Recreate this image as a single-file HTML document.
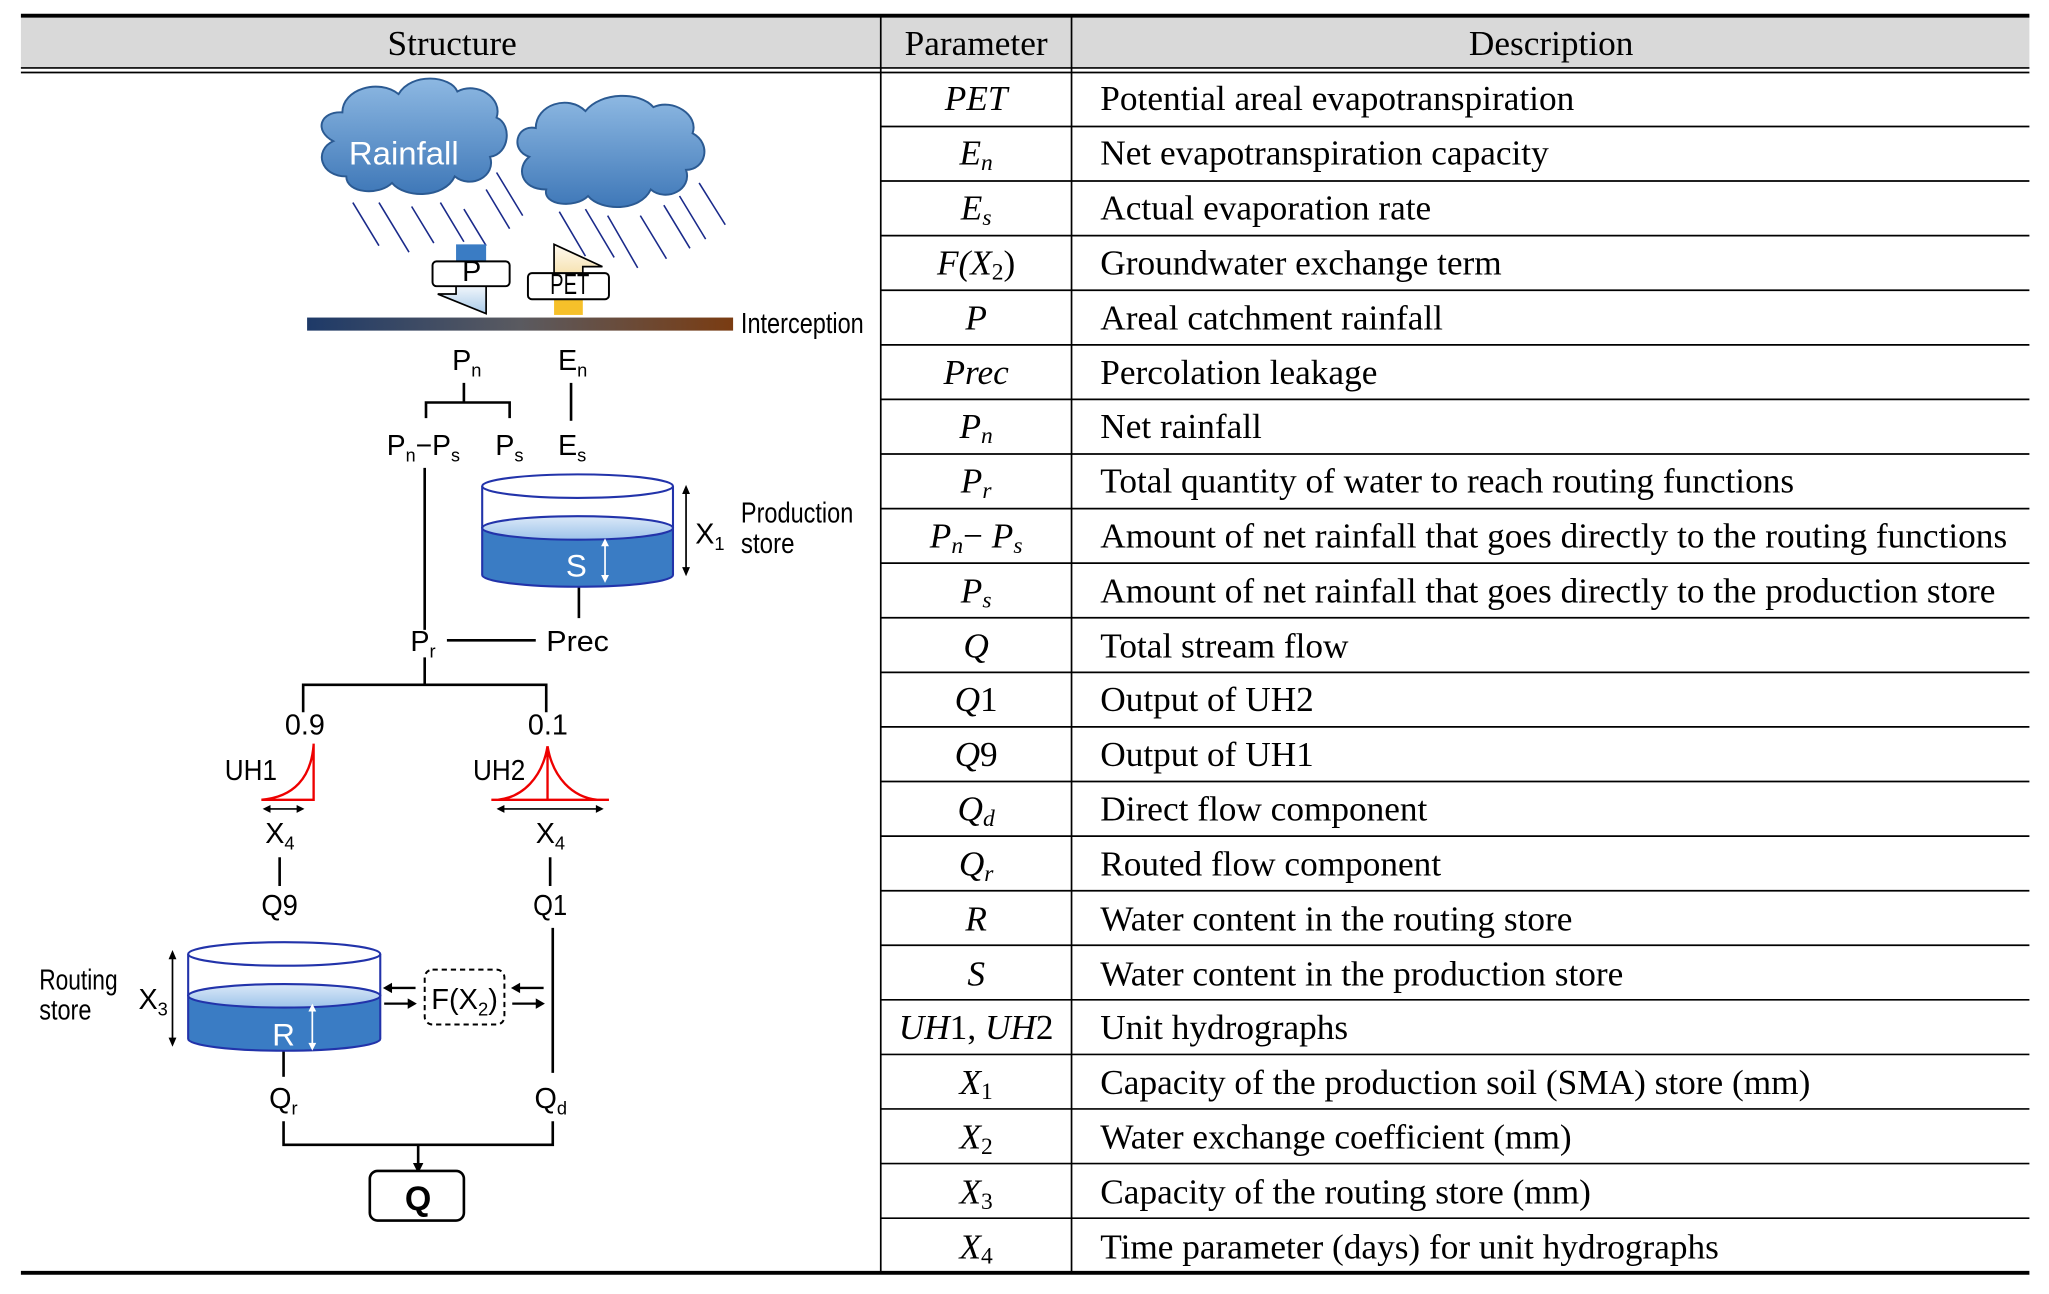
<!DOCTYPE html>
<html><head><meta charset="utf-8"><style>
html,body{margin:0;padding:0;background:#fff}
svg{display:block}
.s{font-family:"Liberation Serif",serif;font-size:27px;fill:#000}
.i{font-style:italic}
.d{font-family:"Liberation Sans",sans-serif;font-size:22px;fill:#000}
.sub{font-size:14px}
</style></head><body>
<svg width="2049" height="1294" viewBox="0 0 1568 990.2" preserveAspectRatio="none" xmlns="http://www.w3.org/2000/svg">
<defs>
<linearGradient id="cl" x1="0" y1="0" x2="0" y2="1"><stop offset="0" stop-color="#8db8e2"/><stop offset="1" stop-color="#3f78b8"/></linearGradient>
<linearGradient id="bar" x1="0" y1="0" x2="1" y2="0"><stop offset="0" stop-color="#1e3a68"/><stop offset="0.5" stop-color="#5a5a60"/><stop offset="1" stop-color="#7a3c12"/></linearGradient>
<linearGradient id="pa" x1="0" y1="0" x2="0" y2="1"><stop offset="0" stop-color="#f4f8fc"/><stop offset="1" stop-color="#a9cbe9"/></linearGradient>
<linearGradient id="ea" x1="0" y1="0" x2="0" y2="1"><stop offset="0" stop-color="#fffaf0"/><stop offset="1" stop-color="#f6e2b0"/></linearGradient>
<linearGradient id="wt" x1="0" y1="0" x2="0" y2="1"><stop offset="0" stop-color="#dbe9f8"/><stop offset="1" stop-color="#9dc3ea"/></linearGradient>
</defs>
<!-- table -->
<rect x="16" y="12" width="1537" height="40" fill="#d9d9d9"/>
<line x1="16" y1="12" x2="1553" y2="12" stroke="#000" stroke-width="3"/>
<line x1="16" y1="52" x2="1553" y2="52" stroke="#000" stroke-width="1.3"/>
<line x1="16" y1="55.5" x2="1553" y2="55.5" stroke="#000" stroke-width="1.3"/>
<line x1="16" y1="974" x2="1553" y2="974" stroke="#000" stroke-width="3"/>
<line x1="674" y1="12" x2="674" y2="974" stroke="#000" stroke-width="1.3"/>
<line x1="820" y1="12" x2="820" y2="974" stroke="#000" stroke-width="1.3"/>
<g stroke="#000" stroke-width="1.3">
<line x1="674" y1="96.8" x2="1553" y2="96.8"/><line x1="674" y1="138.5" x2="1553" y2="138.5"/><line x1="674" y1="180.3" x2="1553" y2="180.3"/><line x1="674" y1="222.1" x2="1553" y2="222.1"/><line x1="674" y1="263.9" x2="1553" y2="263.9"/><line x1="674" y1="305.6" x2="1553" y2="305.6"/><line x1="674" y1="347.4" x2="1553" y2="347.4"/><line x1="674" y1="389.2" x2="1553" y2="389.2"/><line x1="674" y1="430.9" x2="1553" y2="430.9"/><line x1="674" y1="472.7" x2="1553" y2="472.7"/><line x1="674" y1="514.5" x2="1553" y2="514.5"/><line x1="674" y1="556.2" x2="1553" y2="556.2"/><line x1="674" y1="598" x2="1553" y2="598"/><line x1="674" y1="639.8" x2="1553" y2="639.8"/><line x1="674" y1="681.6" x2="1553" y2="681.6"/><line x1="674" y1="723.3" x2="1553" y2="723.3"/><line x1="674" y1="765.1" x2="1553" y2="765.1"/><line x1="674" y1="806.9" x2="1553" y2="806.9"/><line x1="674" y1="848.6" x2="1553" y2="848.6"/><line x1="674" y1="890.4" x2="1553" y2="890.4"/><line x1="674" y1="932.2" x2="1553" y2="932.2"/>
</g>
<text class="s" x="346" y="42" text-anchor="middle">Structure</text>
<text class="s" x="747" y="42" text-anchor="middle">Parameter</text>
<text class="s" x="1187" y="42" text-anchor="middle">Description</text>
<g class="s">
<text x="747" y="84" text-anchor="middle" class="s i">PET</text>
<text x="747" y="126" text-anchor="middle" class="s i">E<tspan font-size="18" dy="4">n</tspan></text>
<text x="747" y="168" text-anchor="middle" class="s i">E<tspan font-size="18" dy="4">s</tspan></text>
<text x="747" y="210" text-anchor="middle" class="s i">F(X<tspan font-size="18" dy="4" font-style="normal">2</tspan><tspan dy="-4" font-style="normal">)</tspan></text>
<text x="747" y="252" text-anchor="middle" class="s i">P</text>
<text x="747" y="294" text-anchor="middle" class="s i">Prec</text>
<text x="747" y="335" text-anchor="middle" class="s i">P<tspan font-size="18" dy="4">n</tspan></text>
<text x="747" y="377" text-anchor="middle" class="s i">P<tspan font-size="18" dy="4">r</tspan></text>
<text x="747" y="419" text-anchor="middle" class="s i">P<tspan font-size="18" dy="4">n</tspan><tspan dy="-4" font-style="normal">− </tspan>P<tspan font-size="18" dy="4">s</tspan></text>
<text x="747" y="461" text-anchor="middle" class="s i">P<tspan font-size="18" dy="4">s</tspan></text>
<text x="747" y="503" text-anchor="middle" class="s i">Q</text>
<text x="747" y="544" text-anchor="middle" class="s i">Q<tspan font-style="normal">1</tspan></text>
<text x="747" y="586" text-anchor="middle" class="s i">Q<tspan font-style="normal">9</tspan></text>
<text x="747" y="628" text-anchor="middle" class="s i">Q<tspan font-size="18" dy="4">d</tspan></text>
<text x="747" y="670" text-anchor="middle" class="s i">Q<tspan font-size="18" dy="4">r</tspan></text>
<text x="747" y="712" text-anchor="middle" class="s i">R</text>
<text x="747" y="754" text-anchor="middle" class="s i">S</text>
<text x="747" y="795" text-anchor="middle" class="s i">UH<tspan font-style="normal">1, </tspan>UH<tspan font-style="normal">2</tspan></text>
<text x="747" y="837" text-anchor="middle" class="s i">X<tspan font-size="18" dy="4" font-style="normal">1</tspan></text>
<text x="747" y="879" text-anchor="middle" class="s i">X<tspan font-size="18" dy="4" font-style="normal">2</tspan></text>
<text x="747" y="921" text-anchor="middle" class="s i">X<tspan font-size="18" dy="4" font-style="normal">3</tspan></text>
<text x="747" y="963" text-anchor="middle" class="s i">X<tspan font-size="18" dy="4" font-style="normal">4</tspan></text>
</g>
<g class="s">
<text class="s" x="842" y="84">Potential areal evapotranspiration</text>
<text class="s" x="842" y="126">Net evapotranspiration capacity</text>
<text class="s" x="842" y="168">Actual evaporation rate</text>
<text class="s" x="842" y="210">Groundwater exchange term</text>
<text class="s" x="842" y="252">Areal catchment rainfall</text>
<text class="s" x="842" y="294">Percolation leakage</text>
<text class="s" x="842" y="335">Net rainfall</text>
<text class="s" x="842" y="377">Total quantity of water to reach routing functions</text>
<text class="s" x="842" y="419" textLength="694" lengthAdjust="spacingAndGlyphs">Amount of net rainfall that goes directly to the routing functions</text>
<text class="s" x="842" y="461" textLength="685" lengthAdjust="spacingAndGlyphs">Amount of net rainfall that goes directly to the production store</text>
<text class="s" x="842" y="503">Total stream flow</text>
<text class="s" x="842" y="544">Output of UH2</text>
<text class="s" x="842" y="586">Output of UH1</text>
<text class="s" x="842" y="628">Direct flow component</text>
<text class="s" x="842" y="670">Routed flow component</text>
<text class="s" x="842" y="712">Water content in the routing store</text>
<text class="s" x="842" y="754">Water content in the production store</text>
<text class="s" x="842" y="795">Unit hydrographs</text>
<text class="s" x="842" y="837">Capacity of the production soil (SMA) store (mm)</text>
<text class="s" x="842" y="879">Water exchange coefficient (mm)</text>
<text class="s" x="842" y="921">Capacity of the routing store (mm)</text>
<text class="s" x="842" y="963">Time parameter (days) for unit hydrographs</text>
</g>

<!-- rain -->
<g stroke="#1a2a8a" stroke-width="1.2">
<line x1="270" y1="155" x2="290" y2="188"/><line x1="290" y1="155" x2="313" y2="193"/><line x1="315" y1="158" x2="332" y2="186"/><line x1="337" y1="155" x2="355" y2="185"/><line x1="355" y1="160" x2="372" y2="188"/><line x1="372" y1="145" x2="390" y2="175"/><line x1="380" y1="132" x2="400" y2="165"/>
<line x1="428" y1="162" x2="448" y2="196"/><line x1="448" y1="160" x2="470" y2="197"/><line x1="465" y1="165" x2="488" y2="205"/><line x1="490" y1="165" x2="510" y2="198"/><line x1="508" y1="157" x2="528" y2="190"/><line x1="520" y1="150" x2="540" y2="183"/><line x1="535" y1="140" x2="555" y2="172"/>
</g>
<!-- clouds -->
<g fill="url(#cl)" stroke="#2b5a92" stroke-width="1.5">
<path d="M255,108 C240,100 245,85 262,86 C262,68 290,60 305,72 C315,55 345,58 350,70 C365,62 385,75 380,90 C392,95 390,118 375,120 C380,135 360,145 348,135 C340,152 310,152 300,140 C290,150 265,148 265,135 C245,135 240,115 255,108 Z"/>
<path d="M405,120 C390,115 395,95 410,98 C410,80 435,72 448,85 C460,70 490,70 500,82 C515,75 535,88 530,102 C545,110 540,130 525,130 C530,145 510,155 498,145 C490,162 460,162 450,150 C440,160 415,157 418,145 C398,145 395,128 405,120 Z"/>
</g>
<text x="267" y="126" textLength="84" lengthAdjust="spacingAndGlyphs" font-family="Liberation Sans,sans-serif" font-size="25" fill="#fff">Rainfall</text>
<!-- P arrow -->
<rect x="349" y="187" width="23" height="14" fill="#3a7cc4"/>
<path d="M349,218 L349,225 L335,225 L372,240 L372,218 Z" fill="url(#pa)" stroke="#000" stroke-width="1.3"/>
<rect x="331" y="200" width="59" height="19" rx="3" fill="#fff" stroke="#000" stroke-width="1.5"/>
<text class="d" x="361" y="215" text-anchor="middle" font-size="15">P</text>
<!-- PET arrow -->
<path d="M424,210 L424,187 L461,204 L446,204 L446,210 Z" fill="url(#ea)" stroke="#000" stroke-width="1.3"/>
<rect x="424" y="228" width="22" height="13" fill="#f6c02a"/>
<rect x="404" y="209" width="62" height="20" rx="3" fill="#fff" stroke="#000" stroke-width="1.5"/>
<text class="d" x="421" y="225" textLength="30" lengthAdjust="spacingAndGlyphs" font-size="15">PET</text>
<!-- interception -->
<rect x="235" y="243" width="326" height="10" fill="url(#bar)"/>
<text class="d" x="567" y="255" font-size="19" textLength="94" lengthAdjust="spacingAndGlyphs">Interception</text>
<!-- Pn En -->
<text class="d" x="346" y="283">P<tspan class="sub" dy="5">n</tspan></text>
<text class="d" x="427" y="283">E<tspan class="sub" dy="5">n</tspan></text>
<g stroke="#000" stroke-width="2" fill="none">
<path d="M355,293 V308 M326,320 V308 H390 V320"/>
<line x1="437" y1="293" x2="437" y2="322"/>
<line x1="325" y1="358" x2="325" y2="482"/>
<line x1="443" y1="448" x2="443" y2="473"/>
<line x1="342" y1="490" x2="410" y2="490"/>
<path d="M325,503 V524 M232,545 V524 H418 V545"/>
<line x1="214" y1="656" x2="214" y2="678"/>
<line x1="421" y1="656" x2="421" y2="678"/>
<line x1="423" y1="710" x2="423" y2="821"/>
<line x1="217" y1="800" x2="217" y2="824"/>
<path d="M217,858 V876 H423 V858"/>
<line x1="320" y1="876" x2="320" y2="892"/>
</g>
<path d="M316,890 L324,890 L320,898 Z" fill="#000"/>
<text class="d" x="296" y="348" textLength="56" lengthAdjust="spacingAndGlyphs">P<tspan class="sub" dy="5">n</tspan><tspan dy="-5">−P</tspan><tspan class="sub" dy="5">s</tspan></text>
<text class="d" x="379" y="348">P<tspan class="sub" dy="5">s</tspan></text>
<text class="d" x="427" y="348">E<tspan class="sub" dy="5">s</tspan></text>
<!-- production store -->
<g stroke="#2233aa" stroke-width="1.6">
<path d="M369,404 L369,440 A73,9 0 0 0 515,440 L515,404 Z" fill="#3a7cc4"/>
<ellipse cx="442" cy="404" rx="73" ry="9" fill="url(#wt)"/>
<line x1="369" y1="372" x2="369" y2="404" fill="none"/><line x1="515" y1="372" x2="515" y2="404"/>
<ellipse cx="442" cy="372" rx="73" ry="9" fill="#fff"/>
</g>
<text x="441" y="441" text-anchor="middle" font-family="Liberation Sans,sans-serif" font-size="24" fill="#fff">S</text>
<g stroke="#fff" stroke-width="1.3"><line x1="463" y1="415" x2="463" y2="443"/></g>
<path d="M460,418 L463,412 L466,418 Z M460,440 L463,446 L466,440 Z" fill="#fff"/>
<line x1="525" y1="376" x2="525" y2="436" stroke="#000" stroke-width="1.3"/>
<path d="M522,378 L525,371 L528,378 Z M522,434 L525,441 L528,434 Z" fill="#000"/>
<text class="d" x="532" y="416">X<tspan class="sub" dy="5">1</tspan></text>
<text class="d" x="567" y="400" font-size="19" textLength="86" lengthAdjust="spacingAndGlyphs">Production</text>
<text class="d" x="567" y="423" font-size="19" textLength="41" lengthAdjust="spacingAndGlyphs">store</text>
<text class="d" x="314" y="498">P<tspan class="sub" dy="5">r</tspan></text>
<text class="d" x="418" y="498" textLength="48" lengthAdjust="spacingAndGlyphs">Prec</text>
<text class="d" x="218" y="562" font-size="20">0.9</text>
<text class="d" x="404" y="562" font-size="20">0.1</text>
<!-- UH -->
<g stroke="#e00" stroke-width="1.8" fill="none">
<path d="M240,569 V612 H200 M200,612 C225,610 238,595 240,570"/>
<path d="M376,612 H466 M419,571 V612 M419,571 C415,595 400,610 381,612 M419,571 C423,595 438,610 457,612"/>
</g>
<text class="d" x="172" y="597" font-size="21" textLength="40" lengthAdjust="spacingAndGlyphs">UH1</text>
<text class="d" x="362" y="597" font-size="21" textLength="40" lengthAdjust="spacingAndGlyphs">UH2</text>
<g stroke="#000" stroke-width="1.3"><line x1="204" y1="619" x2="230" y2="619"/><line x1="383" y1="619" x2="459" y2="619"/></g>
<path d="M207,616 L201,619 L207,622 Z M227,616 L233,619 L227,622 Z M386,616 L380,619 L386,622 Z M456,616 L462,619 L456,622 Z" fill="#000"/>
<text class="d" x="203" y="645">X<tspan class="sub" dy="5">4</tspan></text>
<text class="d" x="410" y="645">X<tspan class="sub" dy="5">4</tspan></text>
<text class="d" x="200" y="700" textLength="28" lengthAdjust="spacingAndGlyphs">Q9</text>
<text class="d" x="408" y="700" textLength="26" lengthAdjust="spacingAndGlyphs">Q1</text>
<!-- routing store -->
<g stroke="#2233aa" stroke-width="1.6">
<path d="M144,762 L144,795 A73,9 0 0 0 291,795 L291,762 Z" fill="#3a7cc4"/>
<ellipse cx="217.5" cy="762" rx="73.5" ry="9" fill="url(#wt)"/>
<line x1="144" y1="730" x2="144" y2="762"/><line x1="291" y1="730" x2="291" y2="762"/>
<ellipse cx="217.5" cy="730" rx="73.5" ry="9" fill="#fff"/>
</g>
<text x="217" y="800" text-anchor="middle" font-family="Liberation Sans,sans-serif" font-size="24" fill="#fff">R</text>
<line x1="239" y1="772" x2="239" y2="800" stroke="#fff" stroke-width="1.3"/>
<path d="M236,774 L239,768 L242,774 Z M236,798 L239,804 L242,798 Z" fill="#fff"/>
<line x1="132" y1="732" x2="132" y2="796" stroke="#000" stroke-width="1.3"/>
<path d="M129,734 L132,727 L135,734 Z M129,794 L132,801 L135,794 Z" fill="#000"/>
<text class="d" x="106" y="772">X<tspan class="sub" dy="5">3</tspan></text>
<text class="d" x="30" y="757" font-size="19" textLength="60" lengthAdjust="spacingAndGlyphs">Routing</text>
<text class="d" x="30" y="780" font-size="19" textLength="40" lengthAdjust="spacingAndGlyphs">store</text>
<!-- F(X2) -->
<rect x="325" y="742" width="61" height="42" rx="6" fill="#fff" stroke="#000" stroke-width="1.5" stroke-dasharray="4,3"/>
<text class="d" x="330" y="772" textLength="51" lengthAdjust="spacingAndGlyphs">F(X<tspan class="sub" dy="5">2</tspan><tspan dy="-5">)</tspan></text>
<g stroke="#000" stroke-width="1.8">
<line x1="298" y1="756" x2="318" y2="756"/><line x1="294" y1="768" x2="314" y2="768"/>
<line x1="396" y1="756" x2="416" y2="756"/><line x1="392" y1="768" x2="412" y2="768"/>
</g>
<path d="M300,752 L293,756 L300,760 Z M312,764 L319,768 L312,772 Z M398,752 L391,756 L398,760 Z M410,764 L417,768 L410,772 Z" fill="#000"/>
<text class="d" x="206" y="848">Q<tspan class="sub" dy="5">r</tspan></text>
<text class="d" x="409" y="848">Q<tspan class="sub" dy="5">d</tspan></text>
<rect x="283" y="896" width="72" height="38" rx="6" fill="#fff" stroke="#000" stroke-width="2"/>
<text x="320" y="926" text-anchor="middle" font-family="Liberation Sans,sans-serif" font-weight="bold" font-size="26">Q</text>
</svg>
</body></html>
